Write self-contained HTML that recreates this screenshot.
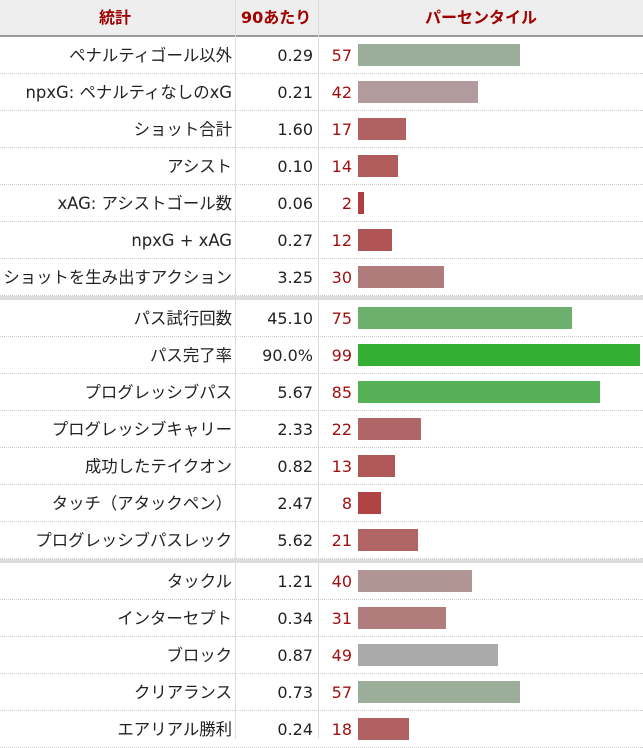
<!DOCTYPE html><html><head><meta charset="utf-8"><style>
body{margin:0;width:643px;height:739px;overflow:hidden;background:#fff;font-family:"DejaVu Sans","Noto Sans CJK JP",sans-serif;font-size:16px;color:#222}
.r{position:absolute;left:0;width:643px;height:37px;line-height:37px;border-bottom:1px dotted #ccc;box-sizing:border-box}
.n{position:absolute;right:411px;top:0;white-space:nowrap;font-size:16.4px}
.v{position:absolute;right:330px;top:0}
.p{position:absolute;right:291px;top:0;color:#a01010}
.b{position:absolute;left:358px;top:7px;height:22px}
.vl{position:absolute;top:0;height:739px;width:1px;background:#ddd}
.sep{position:absolute;left:0;width:643px;height:4px;background:#ddd}
.h{position:absolute;top:0;left:0;width:643px;height:37px;line-height:36px;background:#eee;border-bottom:2px solid #999;box-sizing:border-box;color:#a00000;font-weight:bold}
</style></head><body>
<div class="h"><span style="position:absolute;left:99px;top:0">統計</span><span style="position:absolute;left:241px;top:0">90あたり</span><span style="position:absolute;left:425px;top:0">パーセンタイル</span></div>
<div class="vl" style="left:235px"></div><div class="vl" style="left:318px"></div>
<div id="c"></div>
<div class="sep" style="top:296px"></div><div class="sep" style="top:559px"></div>
<script>
var d=[["ペナルティゴール以外","0.29",57,"#9bae99"],["npxG: ペナルティなしのxG","0.21",42,"#b39a9c"],["ショット合計","1.60",17,"#b06262"],["アシスト","0.10",14,"#b05c5c"],["xAG: アシストゴール数","0.06",2,"#b04040"],["npxG + xAG","0.27",12,"#b05555"],["ショットを生み出すアクション","3.25",30,"#b07b7b"],null,
["パス試行回数","45.10",75,"#6daf6d"],["パス完了率","90.0%",99,"#33b033"],["プログレッシブパス","5.67",85,"#56b056"],["プログレッシブキャリー","2.33",22,"#b06666"],["成功したテイクオン","0.82",13,"#b05858"],["タッチ（アタックペン）","2.47",8,"#b04444"],["プログレッシブパスレック","5.62",21,"#b06464"],null,
["タックル","1.21",40,"#b09595"],["インターセプト","0.34",31,"#b07c7c"],["ブロック","0.87",49,"#aaaaaa"],["クリアランス","0.73",57,"#9bae99"],["エアリアル勝利","0.24",18,"#b06060"]];
var y=37,h="";d.forEach(function(r){if(!r){y+=4;return}
h+='<div class="r" style="top:'+y+'px"><span class="n">'+r[0]+'</span><span class="v">'+r[1]+'</span><span class="p">'+r[2]+'</span><div class="b" style="width:'+Math.round(r[2]*2.85)+'px;background:'+r[3]+'"></div></div>';y+=37});
document.getElementById("c").innerHTML=h;
</script></body></html>
